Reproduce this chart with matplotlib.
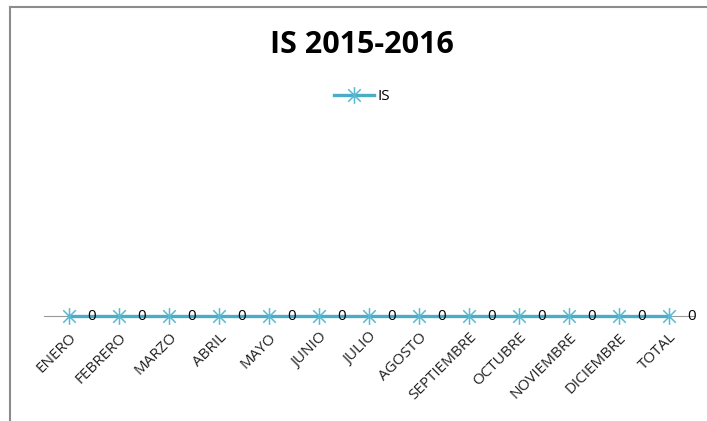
import matplotlib.pyplot as plt
from matplotlib.path import Path

meses = ["ENERO", "FEBRERO", "MARZO", "ABRIL", "MAYO", "JUNIO", "JULIO",
         "AGOSTO", "SEPTIEMBRE", "OCTUBRE", "NOVIEMBRE", "DICIEMBRE", "TOTAL"]
valores_is = [0, 0, 0, 0, 0, 0, 0, 0, 0, 0, 0, 0, 0]

plt.rcParams['font.family'] = ['Open Sans', 'DejaVu Sans']

# excel-like "star" marker: vertical bar plus an X
estrella = Path([(0, -1), (0, 1), (-0.75, -0.75), (0.75, 0.75), (-0.75, 0.75), (0.75, -0.75)],
                [Path.MOVETO, Path.LINETO] * 3)

fig = plt.figure(figsize=(7.07, 4.21), dpi=100)
# gray frame of the chart area (top + left edges)
fig.add_artist(plt.Line2D([9.5 / 707, 1], [1 - 6.5 / 421] * 2, color='#8c8c8c', lw=1.5))
fig.add_artist(plt.Line2D([9.5 / 707] * 2, [0, 1 - 6.5 / 421], color='#8c8c8c', lw=1.5))

ax = fig.add_axes([44 / 707, 105 / 421, 650 / 707, 0.49])
x = list(range(len(meses)))
ax.plot(x, valores_is, color='#4BACC6', lw=2.4, marker=estrella, markersize=12,
        markeredgewidth=1.1, markeredgecolor='#5bb8d0', label='IS', zorder=3,
        clip_on=False)
for xi, v in zip(x, valores_is):
    ax.annotate(str(v), (xi, v), xytext=(16, 0), textcoords='offset points',
                ha='center', va='center', fontsize=11, color='black')

ax.set_xlim(-0.5, len(meses) - 0.5)
ax.set_ylim(0, 1)
ax.set_xticks(x)
ax.set_xticklabels(meses, rotation=45, ha='right', rotation_mode='anchor',
                   fontsize=11, color='#222222')
ax.tick_params(axis='x', length=0, pad=10)
for s in ['top', 'right', 'left']:
    ax.spines[s].set_visible(False)
ax.spines['bottom'].set_color('#999999')
ax.spines['bottom'].set_linewidth(0.8)
ax.set_yticks([])

fig.text(362 / 707, 1 - 45 / 421, 'IS 2015-2016', ha='center', va='center',
         fontsize=22, fontweight='bold')
fig.legend(loc='center', bbox_to_anchor=(362 / 707, 1 - 97 / 421), frameon=False,
           fontsize=11, handlelength=2.6, handletextpad=0.2)

fig.savefig('out.png', dpi=100)
